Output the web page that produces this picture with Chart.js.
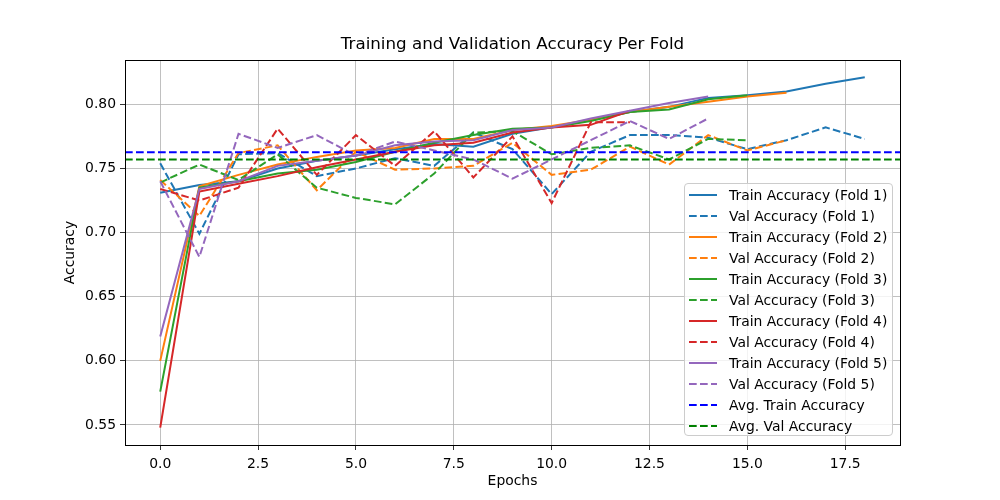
<!DOCTYPE html>
<html>
<head>
<meta charset="utf-8">
<script src="https://cdn.jsdelivr.net/npm/chart.js@4/dist/chart.umd.min.js"></script>
<style>
    body { margin: 0; background: #fff; }
    #wrap { position: relative; width: 1000px; height: 500px; }
    #legend {
        position: absolute; left: 684px; top: 183px; width: 209px; height: 253px;
        border: 1px solid #cccccc; border-radius: 4px; background: rgba(255,255,255,0.8);
        font-family: "DejaVu Sans", sans-serif; font-size: 13.9px; color: #000;
        box-sizing: border-box; padding-top: 1px;
    }
    .row { height: 20.94px; display: flex; align-items: center; white-space: nowrap; }
    .row svg { margin-left: 4px; margin-right: 12px; }
</style>
</head>
<body>
<div id="wrap">
    <canvas id="chart" width="1000" height="500"></canvas>
    <div id="legend"></div>
</div>
<script>
// values, one entry per epoch
const trainF1 = [0.731, 0.737, 0.740, 0.750, 0.756, 0.760, 0.765, 0.769, 0.767, 0.777, 0.782, 0.788, 0.794, 0.798, 0.805, 0.807, 0.810, 0.816, 0.821];
const valF1 = [0.754, 0.699, 0.761, 0.762, 0.744, 0.750, 0.758, 0.752, 0.778, 0.765, 0.730, 0.763, 0.776, 0.776, 0.774, 0.765, 0.772, 0.782, 0.773];
const trainF2 = [0.600, 0.736, 0.745, 0.753, 0.759, 0.764, 0.766, 0.773, 0.773, 0.780, 0.783, 0.788, 0.794, 0.798, 0.802, 0.806, 0.809];
const valF2 = [0.741, 0.713, 0.762, 0.768, 0.733, 0.763, 0.749, 0.750, 0.752, 0.770, 0.745, 0.749, 0.767, 0.753, 0.776, 0.764, 0.772];
const trainF3 = [0.576, 0.735, 0.740, 0.746, 0.749, 0.755, 0.763, 0.770, 0.776, 0.781, 0.782, 0.787, 0.794, 0.796, 0.804, 0.807];
const valF3 = [0.739, 0.753, 0.741, 0.761, 0.735, 0.727, 0.722, 0.746, 0.778, 0.779, 0.761, 0.766, 0.768, 0.757, 0.773, 0.772];
const trainF4 = [0.548, 0.732, 0.738, 0.744, 0.751, 0.757, 0.763, 0.768, 0.770, 0.778, 0.782, 0.784, 0.795];
const valF4 = [0.734, 0.725, 0.735, 0.781, 0.745, 0.776, 0.752, 0.779, 0.743, 0.775, 0.723, 0.786, 0.786];
const trainF5 = [0.619, 0.734, 0.740, 0.752, 0.756, 0.760, 0.768, 0.771, 0.772, 0.780, 0.782, 0.789, 0.795, 0.801, 0.806];
const valF5 = [0.740, 0.681, 0.777, 0.766, 0.776, 0.760, 0.771, 0.764, 0.757, 0.742, 0.757, 0.772, 0.787, 0.773, 0.789];

const avgTrain = 0.7627;
const avgVal = 0.7570;

const xTicks = [0, 2.5, 5, 7.5, 10, 12.5, 15, 17.5];
const yTicks = [0.55, 0.60, 0.65, 0.70, 0.75, 0.80];
const xMin = -0.9, xMax = 18.9;
const yMin = 0.5344, yMax = 0.8345;

const colors = ['#1f77b4', '#ff7f0e', '#2ca02c', '#d62728', '#9467bd'];
const dash = [7.7, 3.3];

const train = [trainF1, trainF2, trainF3, trainF4, trainF5];
const val = [valF1, valF2, valF3, valF4, valF5];

const toPoints = arr => arr.map((v, i) => ({ x: i, y: v }));

const datasets = [];
train.forEach((t, i) => {
    datasets.push({ label: `Train Accuracy (Fold ${i + 1})`, data: toPoints(t), borderColor: colors[i], borderDash: [] });
    datasets.push({ label: `Val Accuracy (Fold ${i + 1})`, data: toPoints(val[i]), borderColor: colors[i], borderDash: dash });
});
datasets.push({ label: 'Avg. Train Accuracy', data: [{ x: xMin, y: avgTrain }, { x: xMax, y: avgTrain }], borderColor: '#0000ff', borderDash: dash });
datasets.push({ label: 'Avg. Val Accuracy', data: [{ x: xMin, y: avgVal }, { x: xMax, y: avgVal }], borderColor: '#008000', borderDash: dash });

// matplotlib draws later lines on top
datasets.forEach((d, i) => {
    d.order = datasets.length - i;
    d.borderWidth = 2;
    d.pointRadius = 0;
    d.fill = false;
    d.tension = 0;
});

// black frame round the plot area
const frame = {
    id: 'frame',
    afterDraw(chart) {
        const { ctx, chartArea: a } = chart;
        ctx.save();
        ctx.strokeStyle = '#000';
        ctx.lineWidth = 1;
        ctx.strokeRect(Math.round(a.left) + 0.5, Math.round(a.top) + 0.5, Math.round(a.right - a.left), Math.round(a.bottom - a.top));
        ctx.restore();
    }
};

const font = { family: 'DejaVu Sans', size: 13.9 };

new Chart(document.getElementById('chart'), {
    type: 'line',
    data: { datasets },
    options: {
        responsive: false,
        animation: false,
        devicePixelRatio: 1,
        layout: { padding: { left: 0, right: 100, top: 0, bottom: 0 } },
        plugins: {
            legend: { display: false },
            tooltip: { enabled: false },
            title: {
                display: true,
                text: 'Training and Validation Accuracy Per Fold',
                color: '#000',
                fullSize: false,
                font: { family: 'DejaVu Sans', size: 16.7, weight: 'normal' },
                padding: { top: 35, bottom: 5 }
            }
        },
        scales: {
            x: {
                type: 'linear',
                min: xMin,
                max: xMax,
                afterBuildTicks: s => { s.ticks = xTicks.map(v => ({ value: v })); },
                afterFit: s => { s.height = 55; },
                ticks: { color: '#000', font, padding: 6, maxRotation: 0, callback: v => v.toFixed(1) },
                grid: { color: '#b0b0b0', lineWidth: 0.8, tickColor: '#000', tickLength: 5 },
                border: { color: '#000' },
                title: { display: true, text: 'Epochs', color: '#000', font, padding: { top: 0, bottom: 10 } }
            },
            y: {
                min: yMin,
                max: yMax,
                afterBuildTicks: s => { s.ticks = yTicks.map(v => ({ value: v })); },
                afterFit: s => { s.width = 125; },
                ticks: { color: '#000', font, padding: 4, callback: v => v.toFixed(2) },
                grid: { color: '#b0b0b0', lineWidth: 0.8, tickColor: '#000', tickLength: 5 },
                border: { color: '#000' },
                title: { display: true, text: 'Accuracy', color: '#000', font, padding: { top: 62, bottom: 0 } }
            }
        }
    },
    plugins: [frame]
});

// legend box like matplotlib's, inside the lower right of the plot
const legendDiv = document.getElementById('legend');
datasets.forEach(d => {
    const row = document.createElement('div');
    row.className = 'row';
    const dashAttr = d.borderDash.length ? `stroke-dasharray="${d.borderDash.join(' ')}"` : '';
    row.innerHTML = `<svg width="28" height="6"><line x1="0" y1="3" x2="28" y2="3" stroke="${d.borderColor}" stroke-width="2" ${dashAttr}/></svg><span>${d.label}</span>`;
    legendDiv.appendChild(row);
});
</script>
</body>
</html>
